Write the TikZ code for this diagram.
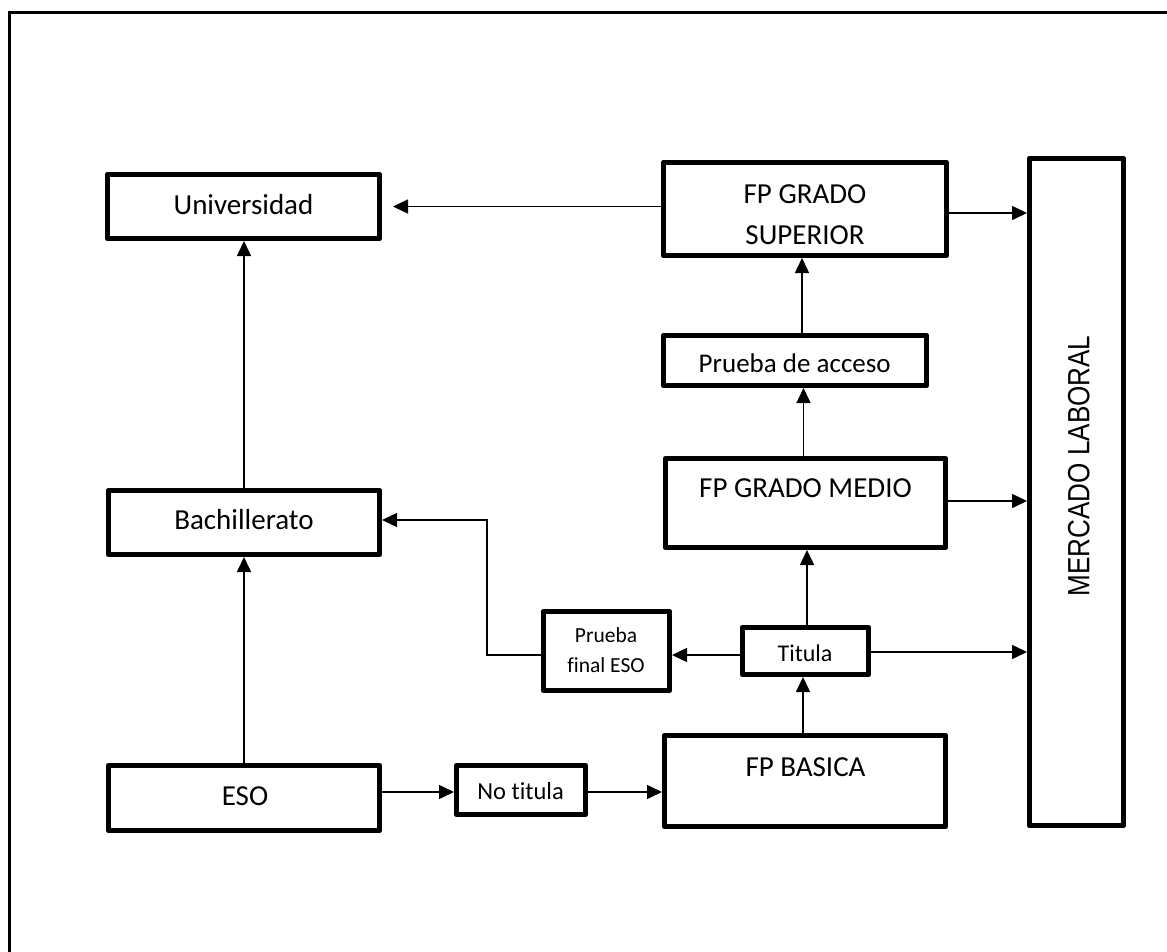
\documentclass[tikz,border=0pt]{standalone}
\usepackage{fontspec}
\setmainfont{Carlito}[Ligatures=NoCommon]
\newfontfamily\arialfont{Liberation Sans}
\usetikzlibrary{arrows.meta,calc}
\begin{document}
\begin{tikzpicture}[x=1pt,y=-1pt,
  box/.style={draw, line width=4.6pt, line join=round, inner sep=0pt},
  conn/.style={line width=1.5pt, -{Triangle[length=15pt,width=14pt]}},
  lbl/.style={inner sep=0pt, anchor=base, font=\fontsize{29}{35}\selectfont},
  lblmid/.style={inner sep=0pt, anchor=base, font=\fontsize{24}{30}\selectfont}]
\useasboundingbox (0,0) rectangle (1167,952);
% outer frame (only left and top sides visible)
\draw[line width=3.4pt] (9.5,952) -- (9.5,12.5) -- (1167,12.5);

% boxes
\node[box, minimum width=272.4pt, minimum height=64.4pt] (uni) at (243.5,206.5) {};
\node[box, minimum width=271.4pt, minimum height=64.4pt] (bach) at (244,522.5) {};
\node[box, minimum width=271.4pt, minimum height=65.4pt] (eso) at (244,798) {};
\node[box, minimum width=129.4pt, minimum height=49.4pt] (notit) at (521,790) {};
\node[box, minimum width=281.4pt, minimum height=91.4pt] (fpb) at (805,781) {};
\node[box, minimum width=126.4pt, minimum height=47.4pt] (titula) at (805.5,651) {};
\node[box, minimum width=126.4pt, minimum height=79.4pt] (pfeso) at (606.5,651) {};
\node[box, minimum width=280.4pt, minimum height=89.4pt] (fpgm) at (805.5,503) {};
\node[box, minimum width=263.4pt, minimum height=50.4pt] (pacc) at (795,360.5) {};
\node[box, minimum width=283.4pt, minimum height=93.4pt] (fpgs) at (805,209) {};
\node[box, minimum width=94.4pt, minimum height=667.4pt] (merc) at (1076.5,492) {};

% texts
\node[lbl] (tuni) at (243.5,214.3) {Universidad};
\node[lbl] (tbach) at (244,529.3) {Bachillerato};
\node[lbl] (teso) at (245,805) {ESO};
\node[inner sep=0pt, anchor=base, font=\fontsize{24.5}{30}\selectfont] (tnotit) at (520.6,799) {No titula};
\node[lbl] (tfpb) at (805.5,776) {FP BASICA};
\node[lblmid] (ttitula) at (805,661) {Titula};
\node[inner sep=0pt, align=center, font=\fontsize{21.5}{30}\selectfont] (tpfeso) at (606,650.5) {Prueba\\final ESO};
\node[lbl] (tfpgm) at (805.5,497) {FP GRADO MEDIO};
\node[inner sep=0pt, anchor=base, font=\fontsize{27}{32}\selectfont] (tpacc) at (794.7,372.7) {Prueba de acceso};
\node[inner sep=0pt, align=center, font=\fontsize{29}{41}\selectfont] (tfpgs) at (805,214.5) {FP GRADO\\SUPERIOR};
\node[inner sep=0pt, anchor=base, rotate=90, font=\arialfont\fontsize{30.7}{36}\selectfont] (tmerc) at (1089.3,466) {\scalebox{0.85}[1]{MERCADO LABORAL}};

% connectors
\coordinate (bend) at (487,520);
\draw[conn] (fpgs.west |- uni.east) -- ([xshift=11pt]uni.east);
\draw[conn] (bach.north) -- (bach.north |- uni.south);
\draw[conn] (eso.north) -- (eso.north |- bach.south);
\draw[conn] (eso.east |- 0,792) -- (notit.west |- 0,792);
\draw[conn] (notit.east |- 0,792) -- (fpb.west |- 0,792);
\draw[conn] (803,0 |- fpb.north) -- (803,0 |- titula.south);
\draw[conn] (807,0 |- titula.north) -- (807,0 |- fpgm.south);
\draw[conn] (titula.west |- 0,655) -- (pfeso.east |- 0,655);
\draw[conn] (pfeso.west |- 0,655) -| (bend) -- (bend -| bach.east);
\draw[conn] (titula.east |- 0,652) -- (merc.west |- 0,652);
\draw[conn] (fpgm.east |- 0,501) -- (merc.west |- 0,501);
\draw[conn] (fpgs.east |- 0,213) -- (merc.west |- 0,213);
\draw[conn] (803.5,0 |- fpgm.north) -- (803.5,0 |- pacc.south);
\draw[conn] (802,0 |- pacc.north) -- (802,0 |- fpgs.south);
\end{tikzpicture}
\end{document}
